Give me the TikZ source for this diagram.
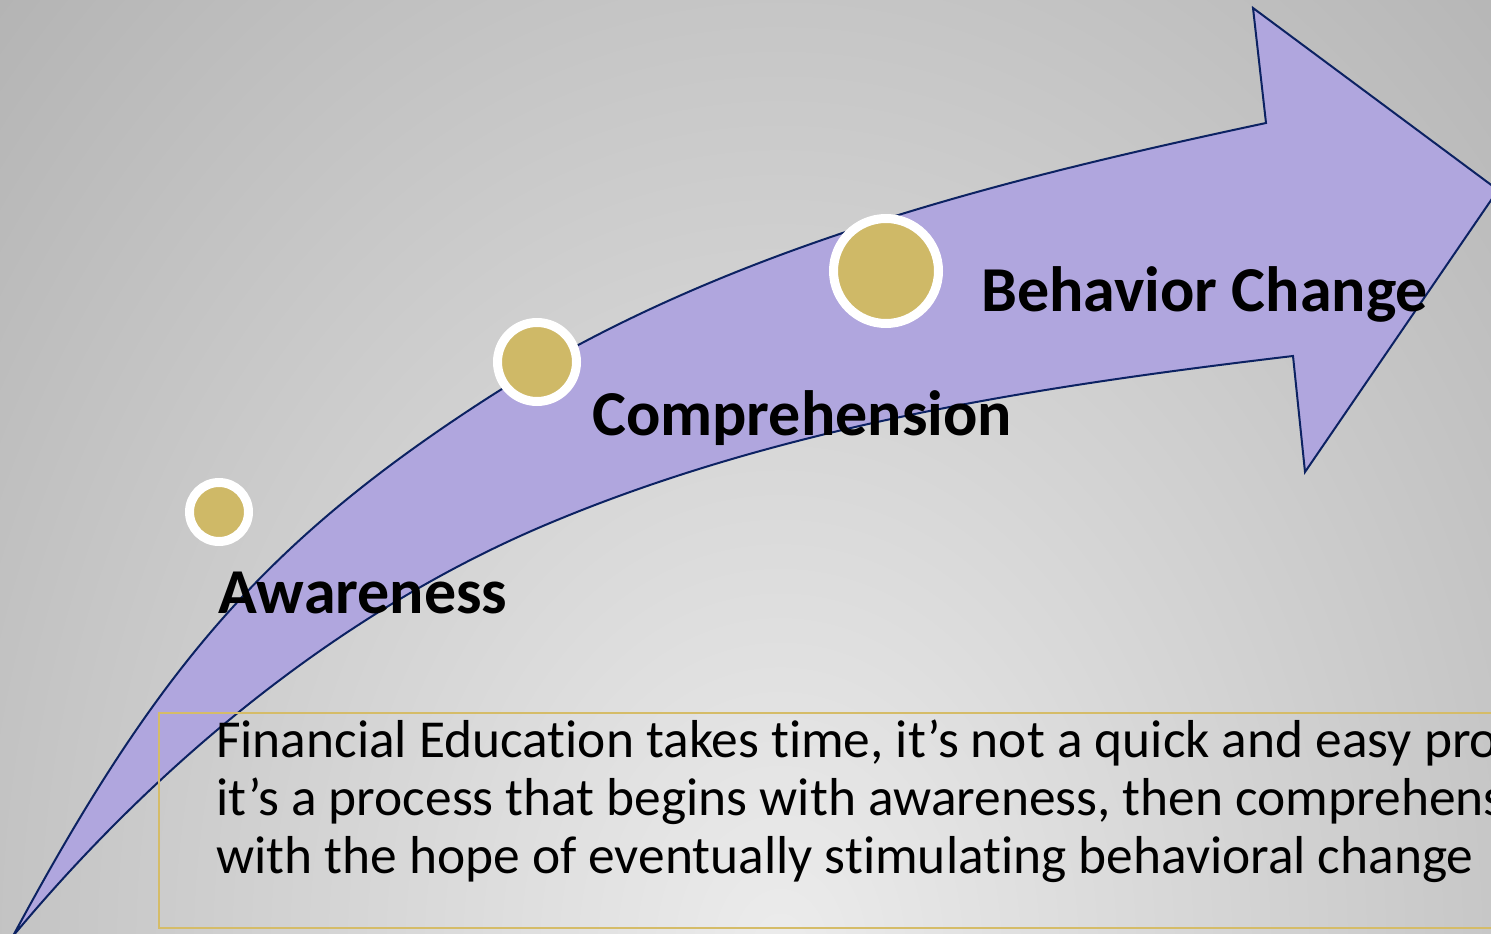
\documentclass[tikz,border=0pt]{standalone}
\usepackage{fontspec}
\setmainfont{Carlito}[Ligatures={NoCommon}]
\definecolor{bginner}{RGB}{236,236,236}
\definecolor{bgouter}{RGB}{171,171,171}
\definecolor{arrowfill}{RGB}{176,166,222}
\definecolor{arrowline}{RGB}{12,34,98}
\definecolor{dotgold}{RGB}{207,185,103}
\definecolor{boxgold}{RGB}{213,188,104}
\tikzset{
  arrowbody/.style={fill=arrowfill, draw=arrowline, line width=2pt, line join=miter},
  stagedot/.style={circle, inner sep=0pt, fill=dotgold, draw=white, line width=9pt},
  stagelabel/.style={anchor=base west, inner sep=0pt, font=\fontsize{64}{72}\selectfont\bfseries},
  bodyline/.style={anchor=base west, inner sep=0pt, font=\fontsize{53.4}{58}\selectfont},
  noteframe/.style={draw=boxgold, line width=2pt}
}
\begin{document}
\begin{tikzpicture}[x=1pt,y=-1pt]
\useasboundingbox (0,0) rectangle (1491,934);
\begin{scope}
\clip (0,0) rectangle (1491,934);
% background
\fill[bgouter] (0,0) rectangle (1491,934);
\shade[inner color=bginner, outer color=bgouter] (780,950) ellipse [x radius=1250, y radius=1600];
% curved arrow: outer edge, head, inner edge back to the tail point
\coordinate (tail) at (13,936);
\coordinate (outerbend) at (480,403);
\coordinate (outerneck) at (1266,123);
\coordinate (upperbarb) at (1253,8);
\coordinate (headtip) at (1498,190);
\coordinate (lowerbarb) at (1305,472);
\coordinate (innerneck) at (1293,356);
\coordinate (innerbend) at (550,523);
\path[arrowbody]
  (tail) .. controls (155,672) and (262,545) .. (outerbend)
         .. controls (713,251) and (994,181) .. (outerneck)
  -- (upperbarb) -- (headtip) -- (lowerbarb) -- (innerneck)
         .. controls (1041,386) and (784,425) .. (innerbend)
         .. controls (342,610) and (158,762) .. (tail)
  -- cycle;
% note frame
\draw[noteframe] (159,713) rectangle (1500,928);
% stage markers
\node[stagedot, minimum size=59pt] (dotA) at (219,512) {};
\node[stagedot, minimum size=79pt] (dotC) at (537,362) {};
\node[stagedot, minimum size=105pt] (dotB) at (886,271) {};
% stage labels
\node[stagelabel] (awareness) at (218,613) {Awareness};
\node[stagelabel] (comprehension) at (592,435) {Comprehension};
\node[stagelabel] (behavior) at (981,311) {Behavior Change};
% note text
\node[bodyline] (note1) at (216,757) {Financial Education takes time, it’s not a quick and easy process};
\node[bodyline] (note2) at (216,815) {it’s a process that begins with awareness, then comprehension};
\node[bodyline] (note3) at (216,873) {with the hope of eventually stimulating behavioral change};
\end{scope}
\end{tikzpicture}
\end{document}
